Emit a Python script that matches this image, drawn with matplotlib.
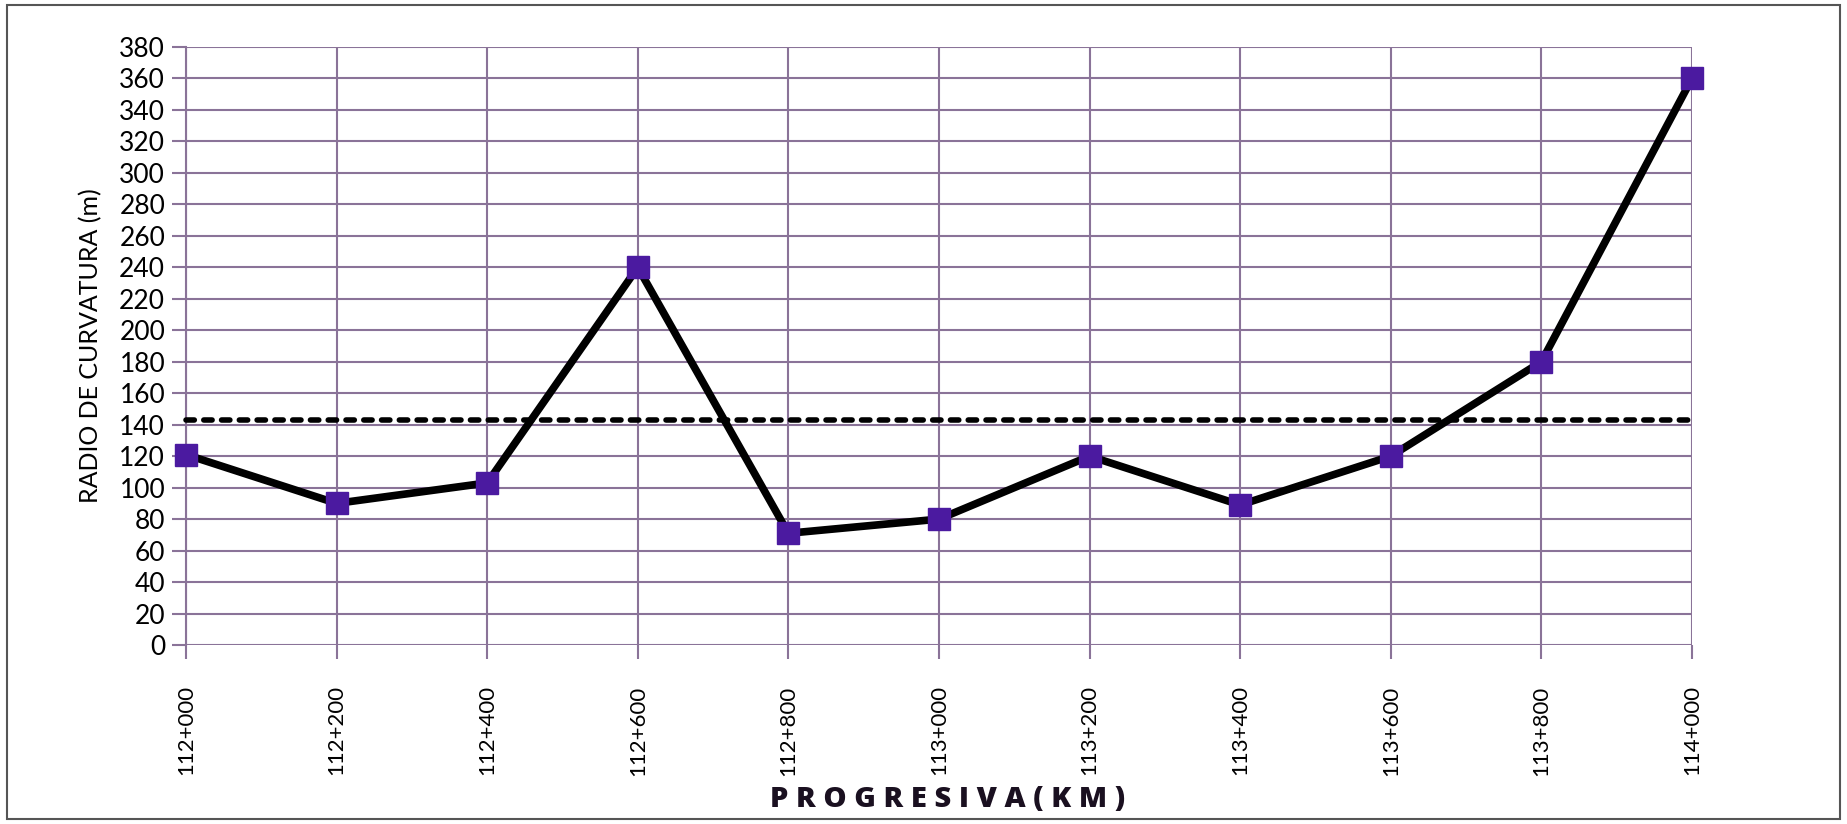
import matplotlib
matplotlib.use('Agg')
import matplotlib.pyplot as plt
from matplotlib.patches import Rectangle

# Progresivas (km) y radios de curvatura medidos
progresivas = ['112+000', '112+200', '112+400', '112+600', '112+800', '113+000',
               '113+200', '113+400', '113+600', '113+800', '114+000']
radios = [121, 90, 103, 240, 71, 80, 120, 89, 120, 180, 360]
radio_minimo = [143] * len(progresivas)
yticks = list(range(0, 381, 20))

plt.rcParams['font.family'] = ['Lato', 'DejaVu Sans']

grid_color = '#8a7398'

fig = plt.figure(figsize=(18.47, 8.24), dpi=100)
ax = fig.add_axes([186 / 1847, 1 - 645 / 824, (1692 - 186) / 1847, (645 - 47) / 824])

x = list(range(len(progresivas)))
ax.plot(x, radio_minimo, color='black', lw=4, ls=(0, (1.5, 1.7)), zorder=3,
        dash_capstyle='round', clip_on=False)
ax.plot(x, radios, color='black', lw=5.5, zorder=4, solid_joinstyle='round', clip_on=False)
ax.plot(x, radios, ls='none', marker='s', ms=16, color='#4b1aa0', zorder=5, clip_on=False)

ax.set_xlim(0, len(progresivas) - 1)
ax.set_ylim(0, 380)
ax.set_yticks(yticks)
ax.set_xticks(x)
ax.set_xticklabels(progresivas, rotation=90, fontsize=16)
ax.tick_params(axis='y', labelsize=19, length=10, color=grid_color, width=1.5, pad=5)
ax.tick_params(axis='x', length=10, color=grid_color, width=1.5, pad=19)

ax.grid(True, color=grid_color, lw=1.5)
ax.set_axisbelow(True)
for side in ['top', 'right', 'bottom']:
    ax.spines[side].set_visible(False)
ax.spines['left'].set_color(grid_color)
ax.spines['left'].set_linewidth(1.5)

ax.set_ylabel('RADIO DE CURVATURA (m)', fontsize=18, labelpad=12)
fig.text(0.513, 0.012, 'P R O G R E S I V A ( K M )', ha='center', va='bottom',
         fontsize=21, fontweight='heavy', color='#1a1020', family=['Open Sans', 'DejaVu Sans'])

# marco exterior
fig.patches.append(Rectangle((0.004, 0.006), 0.992, 0.988, transform=fig.transFigure,
                             fill=False, edgecolor='#555555', lw=1.5))

fig.savefig('out.png', dpi=100, facecolor='white')
